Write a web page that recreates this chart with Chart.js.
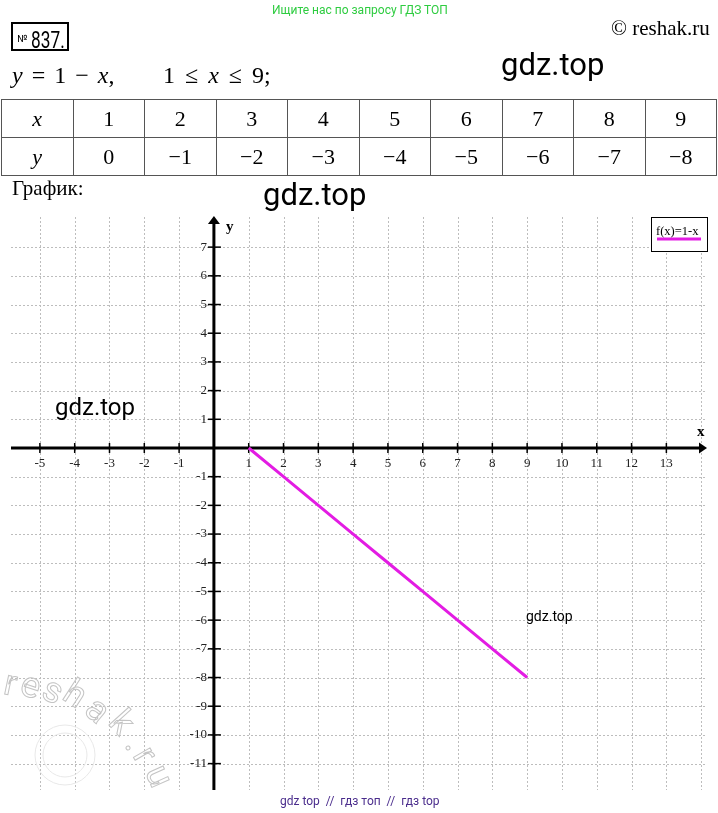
<!DOCTYPE html>
<html>
<head>
<meta charset="utf-8">
<script src="https://cdn.jsdelivr.net/npm/chart.js@4"></script>
<style>
  html, body { margin:0; padding:0; background:#fff; }
  #page { position:relative; width:718px; height:813px; overflow:hidden; background:#fff; }
  #c { position:absolute; left:0; top:0; }
  .t { position:absolute; white-space:nowrap; line-height:1; }
  .serif { font-family:"Liberation Serif","Times New Roman",serif; }
  .sans { font-family:Roboto,"Liberation Sans",sans-serif; }
  #tbl { position:absolute; left:1px; top:99px; border-collapse:collapse; font-family:"Liberation Serif",serif; font-size:22px; }
  #tbl td { border:1px solid #555; width:70.5px; height:37px; padding:0; text-align:center; vertical-align:middle; }
  #tbl td.h { font-style:italic; }
</style>
</head>
<body>
<div id="page">
  <canvas id="c" width="718" height="813"></canvas>
  <div class="t sans" style="left:272px;top:4px;font-size:12px;color:#2ecc40;" id="green">Ищите нас по запросу ГДЗ ТОП</div>
  <div style="position:absolute;left:11px;top:22px;width:54px;height:25px;border:2px solid #000;"></div>
  <div class="t sans" style="left:17px;top:34px;font-size:10px;">№</div>
  <div class="t sans" style="left:31px;top:28px;font-size:24px;transform:scaleX(0.72);transform-origin:0 0;">837.</div>
  <div class="t serif" style="left:611px;top:18px;font-size:21px;">© reshak.ru</div>
  <div class="t serif" style="left:12px;top:63px;font-size:24px;word-spacing:3px;"><i>y</i> = 1 − <i>x</i>,</div>
  <div class="t serif" style="left:163px;top:63px;font-size:24px;word-spacing:4px;">1 ≤ <i>x</i> ≤ 9;</div>
  <div class="t sans" style="left:501px;top:49px;font-size:31px;">gdz.top</div>
  <table id="tbl"></table>
  <div class="t serif" style="left:12px;top:178px;font-size:21px;">График:</div>
  <div class="t sans" style="left:263px;top:179px;font-size:31px;">gdz.top</div>
  <div class="t sans" style="left:55px;top:395px;font-size:24px;">gdz.top</div>
  <div class="t sans" style="left:526px;top:609px;font-size:14px;">gdz.top</div>
  <div class="t sans" style="left:280px;top:795px;font-size:12px;color:#4a2c8c;">gdz top &nbsp;// &nbsp;гдз топ &nbsp;// &nbsp;гдз top</div>
</div>
<script>
// ---- data ----
const xValues = [1, 2, 3, 4, 5, 6, 7, 8, 9];
const yValues = [0, -1, -2, -3, -4, -5, -6, -7, -8];
const tableX = ['1','2','3','4','5','6','7','8','9'];
const tableY = ['0','−1','−2','−3','−4','−5','−6','−7','−8'];
const xTickLabels = [-5,-4,-3,-2,-1,1,2,3,4,5,6,7,8,9,10,11,12,13];
const yTickLabels = [7,6,5,4,3,2,1,-1,-2,-3,-4,-5,-6,-7,-8,-9,-10,-11];
const xGridLines = [-5,-4,-3,-2,-1,0,1,2,3,4,5,6,7,8,9,10,11,12,13,14];
const yGridLines = [7,6,5,4,3,2,1,0,-1,-2,-3,-4,-5,-6,-7,-8,-9,-10,-11];
const legendLabel = 'f(x)=1-x';
const lineColor = '#e31ce3';

// ---- table ----
(function(){
  const tbl = document.getElementById('tbl');
  const r1 = document.createElement('tr');
  const r2 = document.createElement('tr');
  let h = document.createElement('td'); h.className='h'; h.textContent='x'; r1.appendChild(h);
  h = document.createElement('td'); h.className='h'; h.textContent='y'; r2.appendChild(h);
  tableX.forEach(v=>{ const d=document.createElement('td'); d.textContent=v; r1.appendChild(d); });
  tableY.forEach(v=>{ const d=document.createElement('td'); d.textContent=v; r2.appendChild(d); });
  tbl.appendChild(r1); tbl.appendChild(r2);
})();

const SERIF = '"Liberation Serif","Times New Roman",serif';

const axesPlugin = {
  id: 'axesPlugin',
  beforeDatasetsDraw(chart) {
    const ctx = chart.ctx, xs = chart.scales.x, ys = chart.scales.y, a = chart.chartArea;
    ctx.save();
    // grid
    ctx.strokeStyle = '#bdbdbd';
    ctx.lineWidth = 1;
    ctx.setLineDash([2, 2]);
    xGridLines.forEach(v => {
      const px = Math.round(xs.getPixelForValue(v)) + 0.5;
      ctx.beginPath(); ctx.moveTo(px, a.top); ctx.lineTo(px, a.bottom); ctx.stroke();
    });
    yGridLines.forEach(v => {
      const py = Math.round(ys.getPixelForValue(v)) + 0.5;
      ctx.beginPath(); ctx.moveTo(a.left, py); ctx.lineTo(a.right, py); ctx.stroke();
    });
    ctx.setLineDash([]);
    const x0 = xs.getPixelForValue(0), y0 = ys.getPixelForValue(0);
    // axes
    ctx.strokeStyle = '#000'; ctx.fillStyle = '#000';
    ctx.lineWidth = 3;
    ctx.beginPath(); ctx.moveTo(a.left, y0); ctx.lineTo(a.right - 2, y0); ctx.stroke();
    ctx.beginPath(); ctx.moveTo(x0, a.bottom); ctx.lineTo(x0, a.top + 4); ctx.stroke();
    // arrows
    ctx.beginPath(); ctx.moveTo(a.right + 2, y0); ctx.lineTo(a.right - 6, y0 - 5.5); ctx.lineTo(a.right - 6, y0 + 5.5); ctx.closePath(); ctx.fill();
    ctx.beginPath(); ctx.moveTo(x0, a.top - 1); ctx.lineTo(x0 - 6, a.top + 7); ctx.lineTo(x0 + 6, a.top + 7); ctx.closePath(); ctx.fill();
    // ticks
    ctx.lineWidth = 1.5;
    ctx.font = '13px ' + SERIF;
    ctx.fillStyle = '#222';
    ctx.textAlign = 'center'; ctx.textBaseline = 'top';
    xTickLabels.forEach(v => {
      const px = xs.getPixelForValue(v);
      ctx.beginPath(); ctx.moveTo(px, y0 - 5); ctx.lineTo(px, y0 + 5); ctx.stroke();
      ctx.fillText(String(v), px, y0 + 9);
    });
    ctx.textAlign = 'right'; ctx.textBaseline = 'middle';
    yTickLabels.forEach(v => {
      const py = ys.getPixelForValue(v);
      ctx.beginPath(); ctx.moveTo(x0 - 6, py); ctx.lineTo(x0 + 7, py); ctx.stroke();
      ctx.fillText(String(v), x0 - 7, py);
    });
    // axis titles
    ctx.fillStyle = '#000';
    ctx.font = 'bold 15px ' + SERIF;
    ctx.textAlign = 'left'; ctx.textBaseline = 'middle';
    ctx.fillText('y', x0 + 12, a.top + 10);
    ctx.fillText('x', a.right - 8, y0 - 16);
    ctx.restore();
  },
  afterDraw(chart) {
    const ctx = chart.ctx, a = chart.chartArea;
    ctx.save();
    // legend
    const bx = a.right - 54, by = a.top;
    ctx.fillStyle = '#fff';
    ctx.fillRect(bx, by, 56, 34);
    ctx.strokeStyle = '#000'; ctx.lineWidth = 1;
    ctx.strokeRect(bx + 0.5, by + 0.5, 56, 34);
    ctx.fillStyle = '#000';
    ctx.font = '12.5px ' + SERIF;
    ctx.textAlign = 'left'; ctx.textBaseline = 'middle';
    ctx.fillText(legendLabel, bx + 5, by + 15);
    ctx.strokeStyle = lineColor; ctx.lineWidth = 3;
    ctx.beginPath(); ctx.moveTo(bx + 6, by + 22); ctx.lineTo(bx + 50, by + 22); ctx.stroke();
    // watermark
    const letters = [['r',10,686,12],['e',30,688,18],['s',52,693,25],['h',74,696,33],['a',96,712,40],['k',120,724,48],['.',134,744,55],['r',143,756,60],['u',157,777,66]];
    ctx.font = '36px Roboto, sans-serif';
    ctx.strokeStyle = '#c4c4c4'; ctx.lineWidth = 1;
    ctx.textAlign = 'center'; ctx.textBaseline = 'middle';
    letters.forEach(([ch, x, y, r]) => {
      ctx.save(); ctx.translate(x, y); ctx.rotate(r * Math.PI / 180);
      ctx.strokeText(ch, 0, 0); ctx.restore();
    });
    ctx.strokeStyle = '#e8e8e8';
    ctx.beginPath(); ctx.arc(65, 755, 30, 0, Math.PI * 2); ctx.stroke();
    ctx.beginPath(); ctx.arc(65, 755, 22, 0, Math.PI * 2); ctx.stroke();
    ctx.restore();
  }
};

new Chart(document.getElementById('c'), {
  type: 'line',
  data: {
    datasets: [{
      label: legendLabel,
      data: xValues.map((x, i) => ({ x: x, y: yValues[i] })),
      borderColor: lineColor,
      borderWidth: 3,
      pointRadius: 0,
      tension: 0,
      fill: false
    }]
  },
  options: {
    responsive: false,
    animation: false,
    events: [],
    layout: { padding: { left: 11, right: 13, top: 217, bottom: 23 } },
    scales: {
      x: { type: 'linear', min: -5.83, max: 14.11, display: false },
      y: { type: 'linear', min: -11.92, max: 8.05, display: false }
    },
    plugins: { legend: { display: false }, tooltip: { enabled: false } }
  },
  plugins: [axesPlugin]
});
</script>
</body>
</html>
